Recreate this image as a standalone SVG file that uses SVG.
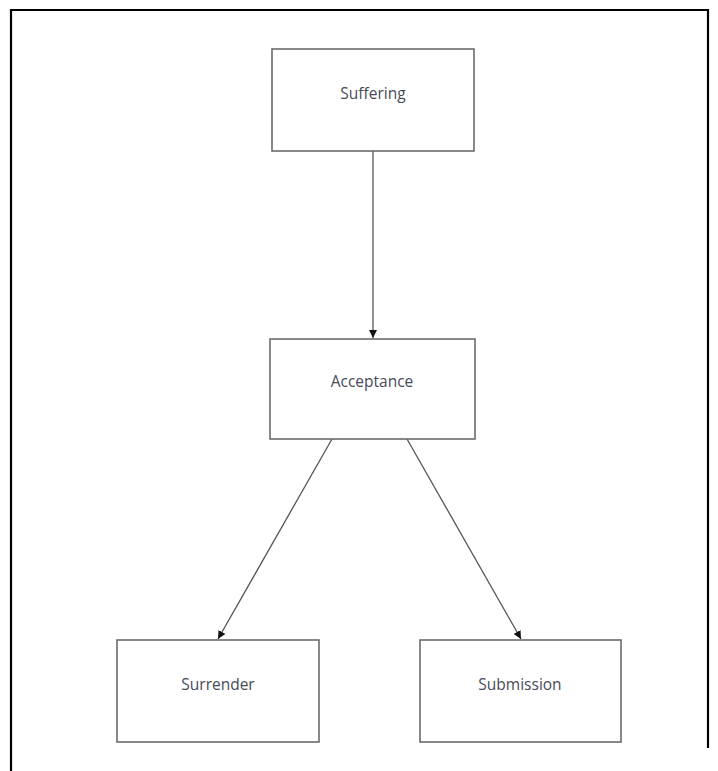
<svg xmlns="http://www.w3.org/2000/svg" width="718" height="771" viewBox="0 0 718 771">
<style>
.box{fill:#ffffff;stroke:#6b6b6b;stroke-width:1.6}
.lbl{font-family:"Open Sans","Liberation Sans",sans-serif;font-size:15.5px;fill:#474a58;text-anchor:middle}
.conn{stroke:#555555;stroke-width:1.3;fill:none}
.frame{stroke:#000000;stroke-width:2.2;fill:none}
</style>
<defs>
<marker id="arr" viewBox="0 0 10 10" refX="10" refY="5" markerWidth="8" markerHeight="8" markerUnits="userSpaceOnUse" orient="auto">
<path d="M0,0 L10,5 L0,10 z" fill="#111111"/>
</marker>
</defs>
<rect width="718" height="771" fill="#ffffff"/>
<path class="frame" d="M11,771 L11,10 L708,10 L708,748"/>
<g id="connectors">
<line class="conn" x1="373" y1="151" x2="373" y2="338" marker-end="url(#arr)"/>
<line class="conn" x1="332" y1="439" x2="218" y2="639" marker-end="url(#arr)"/>
<line class="conn" x1="407" y1="439" x2="521" y2="639" marker-end="url(#arr)"/>
</g>
<g id="suffering">
<rect class="box" x="272" y="49" width="202" height="102"/>
<text class="lbl" x="373" y="99">Suffering</text>
</g>
<g id="acceptance">
<rect class="box" x="270" y="339" width="205" height="100"/>
<text class="lbl" x="372" y="387">Acceptance</text>
</g>
<g id="surrender">
<rect class="box" x="117" y="640" width="202" height="102"/>
<text class="lbl" x="218" y="690">Surrender</text>
</g>
<g id="submission">
<rect class="box" x="420" y="640" width="201" height="102"/>
<text class="lbl" x="520" y="690">Submission</text>
</g>
</svg>
